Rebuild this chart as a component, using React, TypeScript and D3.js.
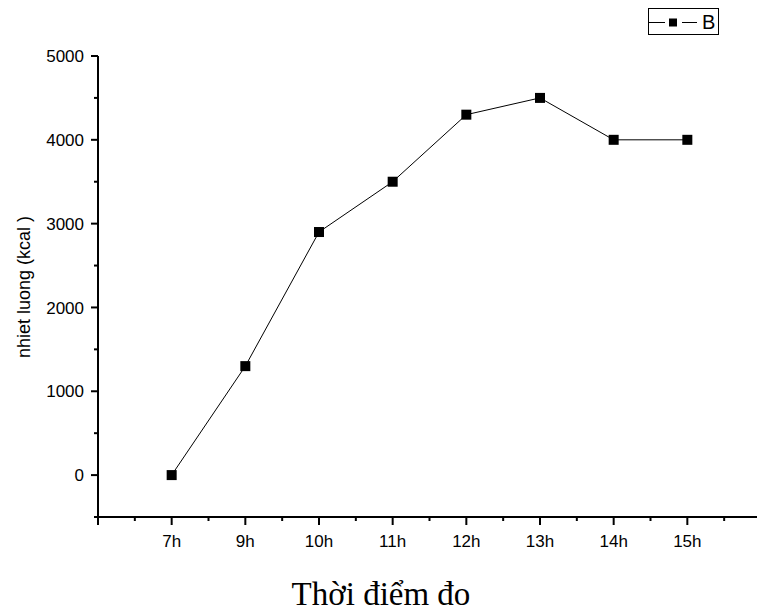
import React from "react";
import { scaleLinear, line, range } from "d3";

// measurement times (categorical, placed at integer positions 1..8)
const times = ["7h", "9h", "10h", "11h", "12h", "13h", "14h", "15h"];
const heat = [0, 1300, 2900, 3500, 4300, 4500, 4000, 4000];
const yTicks = [0, 1000, 2000, 3000, 4000, 5000];
const yMinor = [-500, 500, 1500, 2500, 3500, 4500];
const seriesName = "B";
const yTitle = "nhiet luong (kcal )";
const xTitle = "Thời điểm đo";

const W = 757;
const H = 616;
const font = "Arial, 'Liberation Sans', sans-serif";

export default function App() {
  const x = scaleLinear().domain([0, 9]).range([98, 761]);
  const y = scaleLinear().domain([-500, 5000]).range([517, 56]);
  const x0 = x(0);
  const yBase = y(-500);

  const pts = heat.map((v, i) => [x(i + 1), y(v)] as [number, number]);
  const path = line()(pts) || "";

  const majorX = range(0, 10);
  const minorX = range(0, 9).map((d) => d + 0.5);

  return (
    <svg
      width={W}
      height={H}
      style={{ position: "absolute", left: 0, top: 0, background: "#fff" }}
    >
      {/* y axis */}
      <line x1={x0} x2={x0} y1={y(5000)} y2={yBase} stroke="#000" strokeWidth={2} />
      {yTicks.map((t) => (
        <g key={"y" + t}>
          <line x1={x0 - 7} x2={x0} y1={y(t)} y2={y(t)} stroke="#000" strokeWidth={2} />
          <text
            x={x0 - 14}
            y={y(t)}
            dy="0.36em"
            textAnchor="end"
            fontFamily={font}
            fontSize={17}
          >
            {t}
          </text>
        </g>
      ))}
      {yMinor.map((t) => (
        <line key={"ym" + t} x1={x0 - 4} x2={x0} y1={y(t)} y2={y(t)} stroke="#000" strokeWidth={2} />
      ))}
      <text
        transform="translate(30, 287) rotate(-90)"
        textAnchor="middle"
        fontFamily={font}
        fontSize={18}
      >
        {yTitle}
      </text>

      {/* x axis */}
      <line x1={x0 - 1} x2={W} y1={yBase} y2={yBase} stroke="#000" strokeWidth={2} />
      {majorX.map((d) => (
        <line key={"xm" + d} x1={x(d)} x2={x(d)} y1={yBase} y2={yBase + 8} stroke="#000" strokeWidth={2} />
      ))}
      {minorX.map((d) => (
        <line key={"xn" + d} x1={x(d)} x2={x(d)} y1={yBase} y2={yBase + 4} stroke="#000" strokeWidth={2} />
      ))}
      {times.map((t, i) => (
        <text
          key={t}
          x={x(i + 1)}
          y={547}
          textAnchor="middle"
          fontFamily={font}
          fontSize={17}
        >
          {t}
        </text>
      ))}
      <text
        x={381}
        y={605}
        textAnchor="middle"
        fontFamily="'Liberation Serif', 'Times New Roman', serif"
        fontSize={33}
      >
        {xTitle}
      </text>

      {/* series */}
      <path d={path} fill="none" stroke="#000" strokeWidth={1} />
      {pts.map(([px, py], i) => (
        <rect key={i} x={px - 5} y={py - 5} width={10} height={10} fill="#000" />
      ))}

      {/* legend */}
      <rect x={648.5} y={8.5} width={70} height={26} fill="#fff" stroke="#000" strokeWidth={1} />
      <line x1={649} x2={665} y1={22.5} y2={22.5} stroke="#000" strokeWidth={1} />
      <line x1={682} x2={697} y1={22.5} y2={22.5} stroke="#000" strokeWidth={1} />
      <rect x={669} y={18.5} width={8} height={8} fill="#000" />
      <text x={702} y={29} fontFamily={font} fontSize={20}>
        {seriesName}
      </text>
    </svg>
  );
}
